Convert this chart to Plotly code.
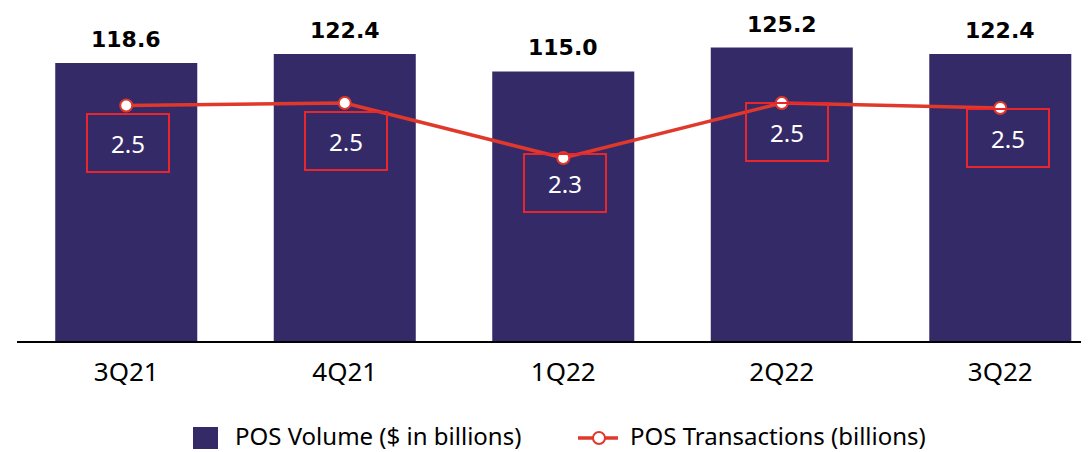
import plotly.graph_objects as go

quarters = ["3Q21", "4Q21", "1Q22", "2Q22", "3Q22"]
pos_volume = [118.6, 122.4, 115.0, 125.2, 122.4]
pos_transactions = [2.49, 2.50, 2.28, 2.50, 2.48]

BAR_COLOR = "#352a68"
LINE_COLOR = "#e0392c"
BOX_COLOR = "#e8262b"
VOLUME_NAME = "POS Volume ($ in billions)"
TXN_NAME = "POS Transactions (billions)"

fig = go.Figure()

fig.add_trace(go.Bar(
    x=quarters,
    y=pos_volume,
    name=VOLUME_NAME,
    marker=dict(color=BAR_COLOR, line=dict(width=0)),
    width=0.65,
    hoverinfo="skip",
    showlegend=False,
))

fig.add_trace(go.Scatter(
    x=quarters,
    y=pos_transactions,
    name=TXN_NAME,
    yaxis="y2",
    mode="lines+markers",
    line=dict(color=LINE_COLOR, width=3.5),
    marker=dict(size=12, color="white", line=dict(color=LINE_COLOR, width=2)),
    hoverinfo="skip",
    showlegend=False,
))

annotations = []
shapes = []

# bold volume labels above the bars
for q, v in zip(quarters, pos_volume):
    annotations.append(dict(
        x=q, y=v, xref="x", yref="y",
        text=f"<b>{v:.1f}</b>",
        showarrow=False,
        yanchor="bottom",
        yshift=9,
        font=dict(family="DejaVu Sans", size=22, color="black"),
    ))

# boxed transaction labels under the line points
box_shift = [-37, -38, -25, -29, -30]
x_shift = [2, 1, 2, 5, 8]
for q, v, dy, dx in zip(quarters, pos_transactions, box_shift, x_shift):
    annotations.append(dict(
        x=q, y=v, xref="x", yref="y2",
        text=f"{v:.1f}",
        showarrow=False,
        yshift=dy, xshift=dx,
        width=80, height=56,
        borderpad=0,
        bordercolor=BOX_COLOR, borderwidth=2,
        font=dict(family="Noto Sans", size=24, color="white"),
    ))

# legend drawn by hand so the swatches match the original size
leg_y = -0.287
shapes.append(dict(type="rect", xref="paper", yref="paper",
                   x0=0.1642, x1=0.1875, y0=-0.2598, y1=-0.3263,
                   fillcolor=BAR_COLOR, line=dict(width=0)))
shapes.append(dict(type="line", xref="paper", yref="paper",
                   x0=0.5233, x1=0.5606, y0=-0.293, y1=-0.293,
                   line=dict(color=LINE_COLOR, width=3.5)))
shapes.append(dict(type="circle", xref="paper", yref="paper",
                   xsizemode="pixel", ysizemode="pixel",
                   xanchor=0.5429, yanchor=-0.293,
                   x0=-6, x1=6, y0=-6, y1=6,
                   fillcolor="white", line=dict(color=LINE_COLOR, width=2)))
for name, x in [(VOLUME_NAME, 0.2015), (TXN_NAME, 0.5700)]:
    annotations.append(dict(
        x=x, y=leg_y, xref="paper", yref="paper",
        text=name, showarrow=False,
        xanchor="left", yanchor="middle",
        font=dict(family="Noto Sans", size=24, color="black"),
    ))

fig.update_layout(
    width=1081, height=444,
    margin=dict(l=9, r=0, t=2, b=111),
    paper_bgcolor="white",
    plot_bgcolor="white",
    font=dict(family="Noto Sans", color="black"),
    xaxis=dict(
        range=[-0.5, 4.406],
        showline=True, linecolor="black", linewidth=2,
        showgrid=False, ticks="",
        tickfont=dict(size=26, family="Noto Sans", color="black"),
        ticklabelstandoff=7,
    ),
    yaxis=dict(range=[0, 141.2], visible=False, showgrid=False),
    yaxis2=dict(range=[1.548, 2.872], overlaying="y", visible=False, showgrid=False),
    annotations=annotations,
    shapes=shapes,
    showlegend=False,
)

fig.write_html("out.html")
